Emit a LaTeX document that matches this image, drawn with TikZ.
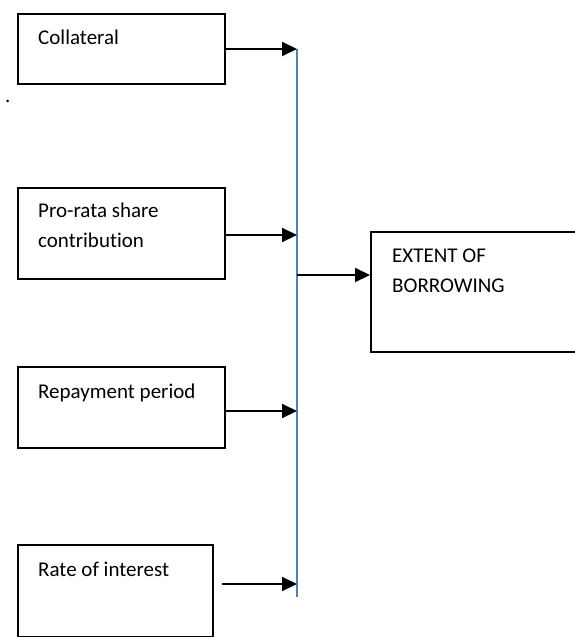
\documentclass[tikz,border=0pt]{standalone}
\usepackage{fontspec}
\setmainfont{Carlito}[Ligatures=NoCommon]
\usetikzlibrary{positioning,arrows.meta}
\definecolor{busblue}{RGB}{79,129,189}
\tikzset{
  box/.style={draw, line width=2pt, rectangle, anchor=north west, inner sep=0pt},
  lbl/.style={anchor=base west, inner sep=0pt, font=\fontsize{21}{30}\selectfont},
  feed/.style={line width=2pt, -{Triangle[length=15pt,width=14pt]}},
  bus/.style={busblue, line width=1.3pt}
}
\begin{document}
\begin{tikzpicture}[x=1pt,y=-1pt]
            \useasboundingbox (0,0) rectangle (574,637);
            % input boxes
            \node[box, minimum width=207pt, minimum height=70pt] (collat) at (17,13) {};
            \node[box, minimum width=207pt, minimum height=91pt] (prorata) at (17,187) {};
            \node[box, minimum width=207pt, minimum height=81pt] (repay) at (17,366) {};
            \node[box, minimum width=195pt, minimum height=92pt] (rate) at (17,544) {};
            \node[box, minimum width=210pt, minimum height=120pt] (extent) at (370,231) {};
            % texts
            \node[lbl] (collattxt) at (38,44) {Collateral};
            \node[lbl] (prortxt) at (38,217) {Pro-rata share};
            \node[lbl] (prortxtb) at (38,247) {contribution};
            \node[lbl] (repaytxt) at (38,398) {Repayment period};
            \node[lbl] (ratetxt) at (38,576) {Rate of interest};
            \node[lbl] (extenttxt) at (392,262) {EXTENT OF};
            \node[lbl] (extenttxtb) at (392,292) {BORROWING};
            \node[lbl] (dot) at (5,102) {.};
            % bus line
            \coordinate (b1) at (297,49);
            \coordinate (b2) at (297,235);
            \coordinate (b3) at (297,411);
            \coordinate (b4) at (297,584);
            \coordinate (b5) at (297,275);
            \coordinate (bend) at (297,597);
            \coordinate (s4) at (222,584);
            \draw[bus] (b1) -- (bend);
            \draw[feed] (b1 -| collat.east) -- (b1);
            \draw[feed] (b2 -| prorata.east) -- (b2);
            \draw[feed] (b3 -| repay.east) -- (b3);
            \draw[feed] (s4) -- (b4);
            \draw[feed] (b5) -- (b5 -| extent.west);
        \end{tikzpicture}
\end{document}
